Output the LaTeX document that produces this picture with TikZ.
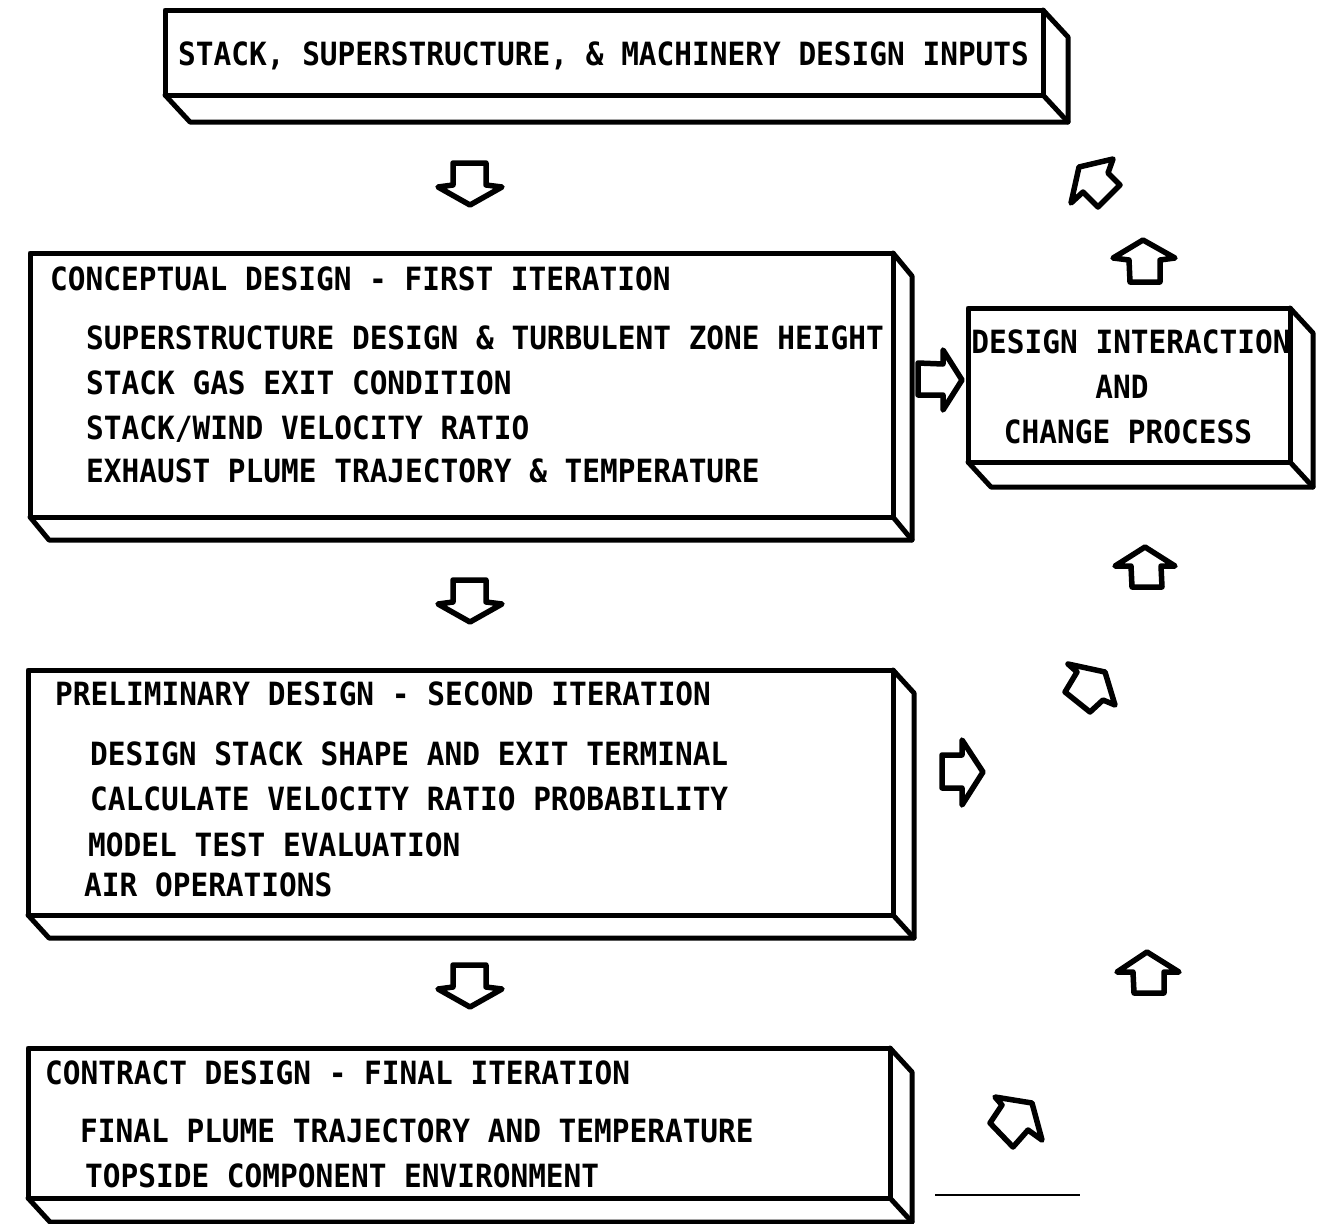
\documentclass[tikz,border=0pt]{standalone}
\usepackage{fontspec}
\newfontfamily\diagfont[FakeStretch=0.92]{DejaVu Sans Mono}
\tikzset{
  boxline/.style={line width=5pt, line join=round, line cap=round},
  blockarrow/.style={line width=5.5pt, line join=round, fill=white},
  lbl/.style={font=\diagfont\bfseries\fontsize{32}{34}\selectfont, inner sep=0pt, anchor=base west},
  clbl/.style={font=\diagfont\bfseries\fontsize{32}{34}\selectfont, inner sep=0pt, anchor=base}
}
\newcommand{\slabbox}[6]{%
  \draw[boxline] (#1,#2) rectangle (#3,#4);
  \draw[boxline] (#1,#4) -- ++(#5,#6) -- ({#3+#5},{#4+#6}) -- ({#3+#5},{#2+#6}) -- (#3,#2);
  \draw[boxline] (#3,#4) -- ++(#5,#6);
}
\begin{document}
\begin{tikzpicture}[x=1pt,y=-1pt]
\useasboundingbox (0,0) rectangle (1318,1224);
\fill[white] (0,0) rectangle (1318,1224);

% boxes
\slabbox{165}{10}{1043}{95}{25}{27}
\slabbox{30}{253}{893}{517}{19}{23}
\slabbox{968}{308}{1290}{462}{23}{25}
\slabbox{28}{670}{893}{915}{21}{23}
\slabbox{28}{1048}{890}{1198}{22}{24}

% texts
\node[lbl] (t1) at (178,65) {STACK, SUPERSTRUCTURE, \& MACHINERY DESIGN INPUTS};

\node[lbl] (c0) at (50,290) {CONCEPTUAL DESIGN - FIRST ITERATION};
\node[lbl] (c1) at (86,349) {SUPERSTRUCTURE DESIGN \& TURBULENT ZONE HEIGHT};
\node[lbl] (c2) at (86,394) {STACK GAS EXIT CONDITION};
\node[lbl] (c3) at (86,439) {STACK/WIND VELOCITY RATIO};
\node[lbl] (c4) at (86,482) {EXHAUST PLUME TRAJECTORY \& TEMPERATURE};

\node[clbl] (d1) at (1131,353) {DESIGN INTERACTION};
\node[clbl] (d2) at (1122,398) {AND};
\node[clbl] (d3) at (1128,443) {CHANGE PROCESS};

\node[lbl] (p0) at (55,705) {PRELIMINARY DESIGN - SECOND ITERATION};
\node[lbl] (p1) at (90,765) {DESIGN STACK SHAPE AND EXIT TERMINAL};
\node[lbl] (p2) at (90,810) {CALCULATE VELOCITY RATIO PROBABILITY};
\node[lbl] (p3) at (88,856) {MODEL TEST EVALUATION};
\node[lbl] (p4) at (84,896) {AIR OPERATIONS};

\node[lbl] (f0) at (45,1084) {CONTRACT DESIGN - FINAL ITERATION};
\node[lbl] (f1) at (80,1142) {FINAL PLUME TRAJECTORY AND TEMPERATURE};
\node[lbl] (f2) at (85,1187) {TOPSIDE COMPONENT ENVIRONMENT};

% down arrows
\foreach \dy in {0,417,802}{
  \draw[blockarrow] (453,163+\dy) -- (486,163+\dy) -- (486,185+\dy) -- (502,187+\dy)
    -- (470,205+\dy) -- (438,187+\dy) -- (453,185+\dy) -- cycle;
}

% right arrows
\draw[blockarrow] (918,363) -- (943,364) -- (943,350) -- (962,380) -- (943,410) -- (943,395) -- (918,395) -- cycle;
\draw[blockarrow] (942,755) -- (962,755) -- (962,740) -- (983,772) -- (962,805) -- (962,788) -- (942,788) -- cycle;

% up arrows
\draw[blockarrow] (1143,240) -- (1175,258) -- (1160,260) -- (1160,282) -- (1130,282) -- (1129,260) -- (1113,258) -- cycle;
\draw[blockarrow] (1145,547) -- (1175,566) -- (1161,566) -- (1162,587) -- (1132,587) -- (1131,566) -- (1115,566) -- cycle;
\draw[blockarrow] (1147,952) -- (1179,972) -- (1164,972) -- (1164,993) -- (1134,993) -- (1133,972) -- (1117,972) -- cycle;

% tilted arrows
\draw[blockarrow] (1079,167) -- (1113,159) -- (1108,173) -- (1120,185) -- (1098,207) -- (1083,192) -- (1071,203) -- cycle;
\draw[blockarrow] (1105,672) -- (1115,705) -- (1103,700) -- (1090,712) -- (1065,692) -- (1077,672) -- (1068,664) -- cycle;
\draw[blockarrow] (1032,1103) -- (1042,1140) -- (1028,1130) -- (1013,1147) -- (990,1123) -- (1002,1105) -- (995,1097) -- cycle;

% stray rule at lower right
\draw[line width=2pt] (935,1195) -- (1080,1195);
\end{tikzpicture}
\end{document}
